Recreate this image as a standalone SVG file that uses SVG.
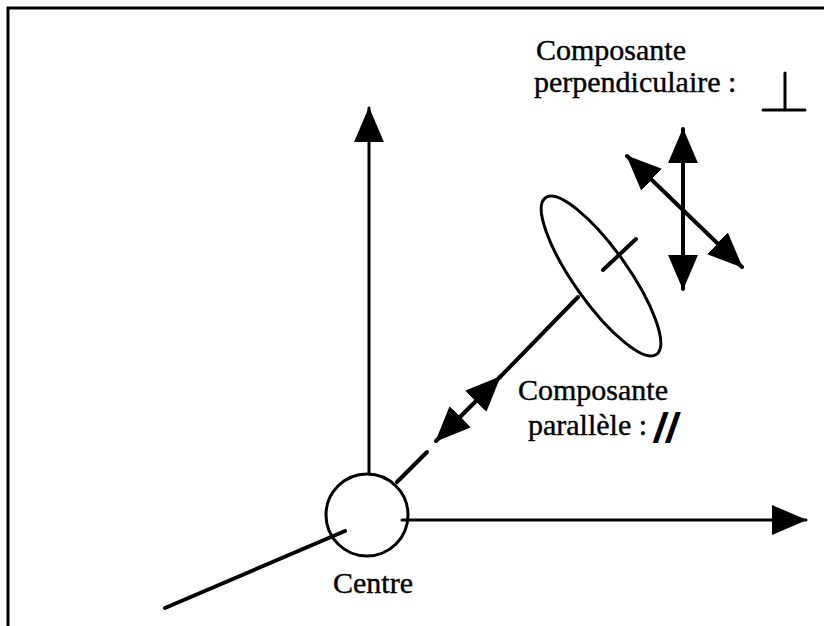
<svg xmlns="http://www.w3.org/2000/svg" width="824" height="626" viewBox="0 0 824 626">
<style>
.ln{stroke:#000;stroke-width:3;fill:none;stroke-linecap:round}
.thick{stroke-width:4}
.lbl{font-family:"Liberation Serif","Times New Roman",serif;font-size:30px;fill:#000;stroke:#000;stroke-width:0.4}
</style>
<defs>
<marker id="ah" viewBox="0 0 34 30" markerWidth="35" markerHeight="31" refX="33" refY="15" orient="auto-start-reverse" markerUnits="userSpaceOnUse">
<path d="M0,0.5 L34,15 L0,29.5 Q-2,15 0,0.5 Z" fill="#000"/>
</marker>
</defs>
<rect width="824" height="626" fill="#fff"/>
<path d="M8,626 V8 H824" class="ln"/>
<g id="connectors">
<line class="ln" x1="369" y1="473" x2="369" y2="108" marker-end="url(#ah)"/>
<line class="ln" x1="402" y1="520" x2="806" y2="520" marker-end="url(#ah)"/>
<line class="ln thick" x1="345" y1="531" x2="165" y2="608"/>
<line class="ln thick" x1="397" y1="482" x2="427" y2="452"/>
<line class="ln thick" x1="436" y1="441" x2="500" y2="377" marker-start="url(#ah)" marker-end="url(#ah)"/>
<line class="ln thick" x1="500" y1="377" x2="578" y2="297"/>
<line class="ln thick" x1="683" y1="129" x2="683" y2="289" marker-start="url(#ah)" marker-end="url(#ah)"/>
<line class="ln thick" x1="627" y1="156" x2="742" y2="267" marker-start="url(#ah)" marker-end="url(#ah)"/>
</g>
<g id="centre">
<circle class="ln" cx="367" cy="515" r="41"/>
<text class="lbl" x="333" y="593">Centre</text>
</g>
<g id="ellipse">
<ellipse class="ln" cx="601" cy="276" rx="96" ry="27" transform="rotate(54.7 601 276)"/>
<line class="ln thick" x1="603" y1="270" x2="636" y2="239"/>
</g>
<g id="perp-label">
<text class="lbl" x="536" y="60">Composante</text>
<text class="lbl" x="534" y="92">perpendiculaire :</text>
<path class="ln" d="M785,73 V110 M763,110 H805"/>
</g>
<g id="para-label">
<text class="lbl" x="518" y="400">Composante</text>
<text class="lbl" x="528" y="435">parallèle : <tspan font-size="44" font-weight="bold" stroke-width="2" dy="7">//</tspan></text>
</g>
</svg>
